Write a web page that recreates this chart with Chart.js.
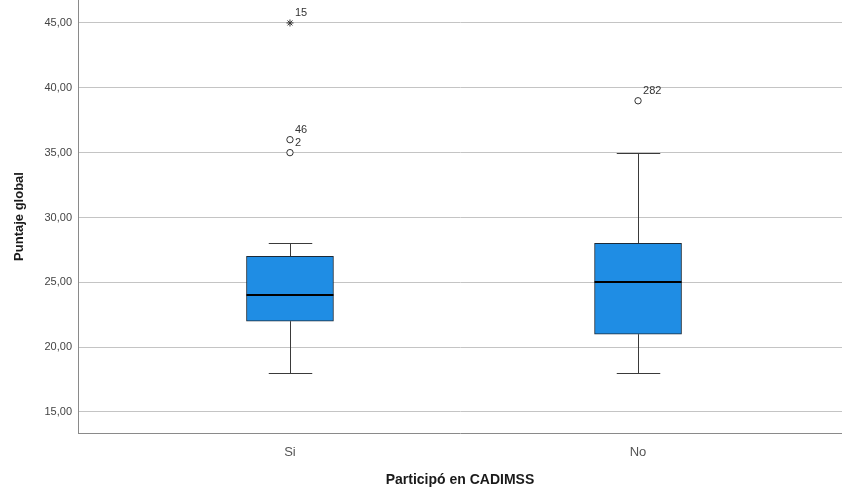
<!DOCTYPE html>
<html>
<head>
<meta charset="utf-8">
<script src="https://cdn.jsdelivr.net/npm/chart.js@4/dist/chart.umd.min.js"></script>
<style>
  html, body { margin: 0; padding: 0; background: #ffffff; }
  #wrap { width: 842px; height: 496px; position: relative; }
</style>
</head>
<body>
<div id="wrap"><canvas id="c" width="842" height="496"></canvas></div>
<script>
// ---- data ----
const categories = ['Si', 'No'];
const q1Values = [22, 21];
const medianValues = [24, 25];
const q3Values = [27, 28];
const whiskerLowValues = [18, 18];
const whiskerHighValues = [28, 35];
const outlierValues = [[35, 36], [39]];
const outlierLabels = [['2', '46'], ['282']];
const extremeValues = [[45], []];
const extremeLabels = [['15'], []];
const yTickValues = [15, 20, 25, 30, 35, 40, 45];
const xTitle = 'Participó en CADIMSS';
const yTitle = 'Puntaje global';

// ---- datasets built from the arrays ----
const boxData = categories.map((c, i) => ({ x: i + 1, y: [q1Values[i], q3Values[i]] }));
const outlierData = [];
const outlierText = [];
outlierValues.forEach((vals, i) => vals.forEach((v, j) => { outlierData.push({ x: i + 1, y: v }); outlierText.push(outlierLabels[i][j]); }));
const extremeData = [];
const extremeText = [];
extremeValues.forEach((vals, i) => vals.forEach((v, j) => { extremeData.push({ x: i + 1, y: v }); extremeText.push(extremeLabels[i][j]); }));

const fmt = v => Number(v).toFixed(2).replace('.', ',');

const boxPlugin = {
  id: 'boxParts',
  beforeDatasetsDraw(chart) {
    const { ctx, scales: { x, y } } = chart;
    const meta = chart.getDatasetMeta(0);
    ctx.save();
    ctx.strokeStyle = '#3a3a3a';
    ctx.lineWidth = 1;
    categories.forEach((c, i) => {
      const bar = meta.data[i];
      const cx = Math.round(x.getPixelForValue(i + 1)) + 0.5;
      const half = bar.width / 4;
      const yLo = Math.round(y.getPixelForValue(whiskerLowValues[i])) + 0.5;
      const yHi = Math.round(y.getPixelForValue(whiskerHighValues[i])) + 0.5;
      const yQ1 = y.getPixelForValue(q1Values[i]);
      const yQ3 = y.getPixelForValue(q3Values[i]);
      ctx.beginPath();
      ctx.moveTo(cx, yQ3); ctx.lineTo(cx, yHi);
      ctx.moveTo(cx - half, yHi); ctx.lineTo(cx + half, yHi);
      ctx.moveTo(cx, yQ1); ctx.lineTo(cx, yLo);
      ctx.moveTo(cx - half, yLo); ctx.lineTo(cx + half, yLo);
      ctx.stroke();
    });
    ctx.restore();
  },
  afterDatasetsDraw(chart) {
    const { ctx, scales: { x, y } } = chart;
    const meta = chart.getDatasetMeta(0);
    ctx.save();
    ctx.strokeStyle = '#000000';
    ctx.lineWidth = 2;
    categories.forEach((c, i) => {
      const bar = meta.data[i];
      const ym = Math.round(y.getPixelForValue(medianValues[i]));
      ctx.beginPath();
      ctx.moveTo(bar.x - bar.width / 2, ym);
      ctx.lineTo(bar.x + bar.width / 2, ym);
      ctx.stroke();
    });
    // case labels
    ctx.fillStyle = '#333333';
    ctx.font = '11px "Liberation Sans", Arial, sans-serif';
    ctx.textAlign = 'left';
    ctx.textBaseline = 'middle';
    const lab = (idx, texts) => {
      chart.getDatasetMeta(idx).data.forEach((pt, k) => {
        ctx.fillText(texts[k], pt.x + 5, pt.y - 10);
      });
    };
    lab(1, outlierText);
    lab(2, extremeText);
    ctx.restore();
  }
};

new Chart(document.getElementById('c'), {
  type: 'bar',
  data: {
    datasets: [
      {
        type: 'bar',
        data: boxData,
        backgroundColor: '#1f8de4',
        borderColor: '#1c2a38',
        borderWidth: 1,
        borderSkipped: false,
        barThickness: 87,
        order: 2
      },
      {
        type: 'scatter',
        data: outlierData,
        pointStyle: 'circle',
        pointRadius: 3.2,
        pointBorderWidth: 1,
        pointBorderColor: '#333333',
        pointBackgroundColor: '#ffffff',
        order: 1
      },
      {
        type: 'scatter',
        data: extremeData,
        pointStyle: 'star',
        pointRadius: 3.5,
        pointBorderWidth: 1,
        pointBorderColor: '#333333',
        pointBackgroundColor: '#333333',
        order: 1
      }
    ]
  },
  options: {
    responsive: false,
    animation: false,
    devicePixelRatio: 1,
    layout: { padding: 0, autoPadding: false },
    plugins: { legend: { display: false }, tooltip: { enabled: false } },
    scales: {
      x: {
        type: 'linear',
        offset: false,
        min: 0.391,
        max: 2.586,
        afterBuildTicks: s => { s.ticks = categories.map((c, i) => ({ value: i + 1 })); },
        afterFit: s => { s.height = 63; s.paddingLeft = 0; s.paddingRight = 0; },
        grid: { display: false, drawTicks: false, offset: false },
        border: { display: true, color: '#8a8a8a', width: 1 },
        ticks: {
          padding: 12,
          color: '#555555',
          font: { family: '"Liberation Sans", Arial, sans-serif', size: 13 },
          callback: (v, i) => categories[i],
          maxRotation: 0,
          autoSkip: false
        },
        title: {
          display: true,
          text: xTitle,
          color: '#1a1a1a',
          font: { family: '"Liberation Sans", Arial, sans-serif', size: 14, weight: 'bold' },
          padding: { top: 0, bottom: 7 }
        }
      },
      y: {
        type: 'linear',
        min: 13.38,
        max: 46.77,
        afterBuildTicks: s => { s.ticks = yTickValues.map(v => ({ value: v })); },
        afterFit: s => { s.width = 78; s.paddingTop = 0; s.paddingBottom = 0; },
        grid: { color: '#c4c4c4', lineWidth: 1, drawTicks: false },
        border: { display: true, color: '#8a8a8a', width: 1 },
        ticks: {
          padding: 6,
          color: '#444444',
          font: { family: '"Liberation Sans", Arial, sans-serif', size: 11 },
          callback: v => fmt(v)
        },
        title: {
          display: true,
          text: yTitle,
          color: '#1a1a1a',
          font: { family: '"Liberation Sans", Arial, sans-serif', size: 13, weight: 'bold' },
          padding: { top: 12, bottom: 0 }
        }
      }
    }
  },
  plugins: [boxPlugin]
});
</script>
</body>
</html>
